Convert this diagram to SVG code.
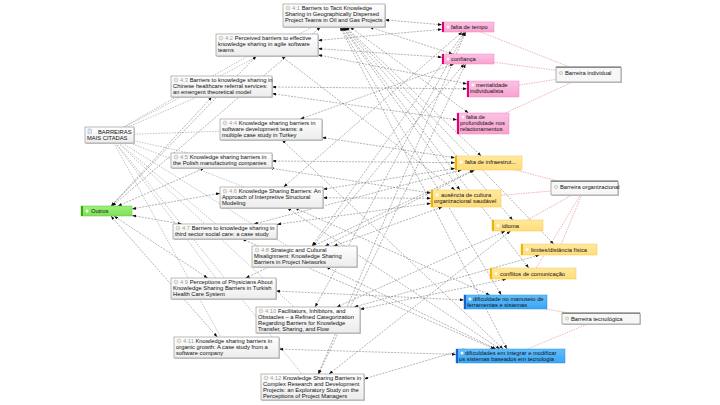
<svg xmlns="http://www.w3.org/2000/svg" width="720" height="405" viewBox="0 0 720 405">
<defs>
<marker id="ar" markerUnits="userSpaceOnUse" markerWidth="4" markerHeight="3" refX="4" refY="1.5" orient="auto-start-reverse"><path d="M0,0 L4,1.5 L0,3 z" fill="#111"/></marker>
<linearGradient id="gp" x1="0" y1="0" x2="0" y2="1"><stop offset="0" stop-color="#ffffff"/><stop offset="1" stop-color="#ececec"/></linearGradient>
<linearGradient id="gk" x1="0" y1="0" x2="0" y2="1"><stop offset="0" stop-color="#fbc2e2"/><stop offset="1" stop-color="#f7a3d0"/></linearGradient>
<linearGradient id="gy" x1="0" y1="0" x2="0" y2="1"><stop offset="0" stop-color="#ffe9a0"/><stop offset="1" stop-color="#ffdc78"/></linearGradient>
<linearGradient id="gb" x1="0" y1="0" x2="0" y2="1"><stop offset="0" stop-color="#62bdfb"/><stop offset="1" stop-color="#3aa6f4"/></linearGradient>
<linearGradient id="gg" x1="0" y1="0" x2="0" y2="1"><stop offset="0" stop-color="#9ef07a"/><stop offset="1" stop-color="#7fe058"/></linearGradient>
</defs>
<style>
text{font-family:"Liberation Sans",Arial,sans-serif;font-size:5.8px;fill:#111}
.num{fill:#9a9a9a}
.e{stroke:#666;stroke-width:0.5;stroke-dasharray:2 1.2;fill:none;marker-start:url(#ar);marker-end:url(#ar)}
.b{stroke:#777;stroke-width:0.45;stroke-dasharray:1.5 1.2;fill:none}
.p{stroke:#e87878;stroke-width:0.55;stroke-dasharray:1.5 1;fill:none}
.sh{fill:#cfcfcf}
.pn{fill:url(#gp);stroke:#8a8a8a;stroke-width:0.6}
.pi{fill:#efe6da;stroke:#b8ab9a;stroke-width:0.5}
.ci{fill:#fff;stroke:none;opacity:0.9}
.kp{fill:url(#gk);stroke:#ef86c2;stroke-width:0.5}
.kpb{fill:#e0007a}
.ky{fill:url(#gy);stroke:#f3c94d;stroke-width:0.5}
.kyb{fill:#f2b400}
.kb{fill:url(#gb);stroke:#2b8fe3;stroke-width:0.5}
.kbb{fill:#1560d4}
.kg{fill:url(#gg);stroke:#5cc63a;stroke-width:0.5}
.kgb{fill:#36a61c}
.br{fill:#f7f7f7;stroke:#7a7a7a;stroke-width:0.6}
.brt{fill:#8a8a8a}
.bi{fill:#e2eee2;stroke:#9bb89b;stroke-width:0.5}
</style>
<rect width="720" height="405" fill="#ffffff"/>
<g id="connectors">
<path class="b" d="M124.5,127 L312.4,27"/>
<path class="b" d="M123.5,127 L247.8,56"/>
<path class="b" d="M128,127 L197.3,97"/>
<path class="b" d="M134,134.2 L220,131.2"/>
<path class="b" d="M134,140.6 L188.6,153"/>
<path class="b" d="M130.2,143 L244.3,187"/>
<path class="b" d="M119.1,143 L216,224"/>
<path class="b" d="M122.3,143 L287.7,246"/>
<path class="b" d="M115.4,143 L215.7,278"/>
<path class="b" d="M118.1,143 L294,307"/>
<path class="b" d="M113.9,143 L220.7,337"/>
<path class="b" d="M115.9,143 L302,374"/>
<path class="e" d="M385,19.9 L442,24.8"/>
<path class="e" d="M369.4,27 L452.6,54"/>
<path class="e" d="M349.9,27 L468.5,113"/>
<path class="e" d="M346,27 L481.2,156"/>
<path class="e" d="M342.3,27 L459.9,190"/>
<path class="e" d="M344,27 L512.7,220"/>
<path class="e" d="M345.1,27 L553.7,244"/>
<path class="e" d="M342.9,27 L528.8,268"/>
<path class="e" d="M340.9,27 L501.3,295"/>
<path class="e" d="M340,27 L506.9,349"/>
<path class="e" d="M320.6,27 L112.3,206"/>
<path class="e" d="M318,40.4 L442,29.3"/>
<path class="e" d="M318,48.6 L442,57.2"/>
<path class="e" d="M318,54.9 L467,83.9"/>
<path class="e" d="M281.3,56 L455,190"/>
<path class="e" d="M256.4,56 L111.3,206"/>
<path class="e" d="M272,87 L467,88.8"/>
<path class="e" d="M272,93.6 L457,119.8"/>
<path class="e" d="M211.8,97 L111.1,206"/>
<path class="e" d="M300.3,119 L454,64"/>
<path class="e" d="M322,137.4 L455,157.8"/>
<path class="e" d="M282.1,140 L503.1,349"/>
<path class="e" d="M272,161 L455,162.7"/>
<path class="e" d="M269.7,168 L431,193.1"/>
<path class="e" d="M204.4,168 L117.9,206"/>
<path class="e" d="M283.6,187 L462.2,32"/>
<path class="e" d="M323,189.3 L455,168.3"/>
<path class="e" d="M323,197.8 L431,198.3"/>
<path class="e" d="M295,208 L489.8,295"/>
<path class="e" d="M287.3,208 L499.9,349"/>
<path class="e" d="M220,193.3 L132,208.9"/>
<path class="e" d="M253.9,224 L461.6,170"/>
<path class="e" d="M277,224.4 L431,203.3"/>
<path class="e" d="M242.2,239 L494.5,349"/>
<path class="e" d="M181.6,224 L132,215.4"/>
<path class="e" d="M312,246 L464.4,32"/>
<path class="e" d="M313.2,246 L463.9,64"/>
<path class="e" d="M325.2,246 L474.7,170"/>
<path class="e" d="M333.7,246 L442.3,207"/>
<path class="e" d="M326.2,267 L496,349"/>
<path class="e" d="M245.7,278 L473.7,170"/>
<path class="e" d="M276,291 L464,300"/>
<path class="e" d="M207.6,278 L114,216"/>
<path class="e" d="M315.1,307 L465.3,32"/>
<path class="e" d="M336.8,307 L505.3,231"/>
<path class="e" d="M360,309.3 L506.4,279"/>
<path class="e" d="M354.3,307 L539.4,255"/>
<path class="e" d="M279,349.1 L456,354.4"/>
<path class="e" d="M217.3,337 L110.9,216"/>
<path class="e" d="M318.1,374 L465.8,32"/>
<path class="e" d="M318.7,374 L465.6,64"/>
<path class="e" d="M329,374 L510.5,231"/>
<path class="e" d="M364,378.9 L465.8,349"/>
<path class="p" d="M480.7,32 L569.5,67"/>
<path class="p" d="M494,62.3 L556,70.3"/>
<path class="p" d="M519,85.1 L556,79.4"/>
<path class="p" d="M505.6,113 L572.4,82"/>
<path class="p" d="M515.4,170 L557.6,181"/>
<path class="p" d="M501,195.4 L551,191"/>
<path class="p" d="M527.3,220 L572,195"/>
<path class="p" d="M561.3,244 L581.6,195"/>
<path class="p" d="M536.3,268 L580.3,195"/>
<path class="p" d="M546,309 L569.2,313"/>
<path class="p" d="M527.4,349 L587.7,324"/>
</g>
<g id="p41"><rect class="sh" x="284" y="5" width="102" height="23"/><rect class="pn" x="283" y="4" width="102" height="23"/><circle class="pi" cx="288" cy="8" r="2"/><text x="292" y="10"><tspan class="num">4:1</tspan> Barriers to Tacit Knowledge</text><text x="285" y="16">Sharing in Geographically Dispersed</text><text x="285" y="22">Project Teams in Oil and Gas Projects</text></g>
<g id="p42"><rect class="sh" x="217" y="35" width="102" height="22"/><rect class="pn" x="216" y="34" width="102" height="22"/><circle class="pi" cx="221" cy="38" r="2"/><text x="225" y="40"><tspan class="num">4:2</tspan> Perceived barriers to effective</text><text x="218" y="46">knowledge sharing in agile software</text><text x="218" y="52">teams</text></g>
<g id="p43"><rect class="sh" x="172" y="77" width="101" height="21"/><rect class="pn" x="171" y="76" width="101" height="21"/><circle class="pi" cx="176" cy="80" r="2"/><text x="180" y="82"><tspan class="num">4:3</tspan> Barriers to knowledge sharing in</text><text x="173" y="88">Chinese healthcare referral services:</text><text x="173" y="94">an emergent theoretical model</text></g>
<g id="p44"><rect class="sh" x="221" y="120" width="102" height="21"/><rect class="pn" x="220" y="119" width="102" height="21"/><circle class="pi" cx="225" cy="123" r="2"/><text x="229" y="125"><tspan class="num">4:4</tspan> Knowledge sharing barriers in</text><text x="222" y="131">software development teams: a</text><text x="222" y="137">multiple case study in Turkey</text></g>
<g id="p45"><rect class="sh" x="172" y="154" width="101" height="15"/><rect class="pn" x="171" y="153" width="101" height="15"/><circle class="pi" cx="176" cy="157" r="2"/><text x="180" y="159"><tspan class="num">4:5</tspan> Knowledge sharing barriers in</text><text x="173" y="165">the Polish manufacturing companies</text></g>
<g id="p46"><rect class="sh" x="221" y="188" width="103" height="21"/><rect class="pn" x="220" y="187" width="103" height="21"/><circle class="pi" cx="225" cy="191" r="2"/><text x="229" y="193"><tspan class="num">4:6</tspan> Knowledge Sharing Barriers: An</text><text x="222" y="199">Approach of Interpretive Structural</text><text x="222" y="205">Modeling</text></g>
<g id="p47"><rect class="sh" x="174" y="225" width="104" height="15"/><rect class="pn" x="173" y="224" width="104" height="15"/><circle class="pi" cx="178" cy="228" r="2"/><text x="182" y="230"><tspan class="num">4:7</tspan> Barriers to knowledge sharing in</text><text x="175" y="236">third sector social care: a case study</text></g>
<g id="p48"><rect class="sh" x="253" y="247" width="105" height="21"/><rect class="pn" x="252" y="246" width="105" height="21"/><circle class="pi" cx="257" cy="250" r="2"/><text x="261" y="252"><tspan class="num">4:8</tspan> Strategic and Cultural</text><text x="254" y="258">Misalignment: Knowledge Sharing</text><text x="254" y="264">Barriers in Project Networks</text></g>
<g id="p49"><rect class="sh" x="172" y="279" width="105" height="21"/><rect class="pn" x="171" y="278" width="105" height="21"/><circle class="pi" cx="176" cy="282" r="2"/><text x="180" y="284"><tspan class="num">4:9</tspan> Perceptions of Physicians About</text><text x="173" y="290">Knowledge Sharing Barriers in Turkish</text><text x="173" y="296">Health Care System</text></g>
<g id="p410"><rect class="sh" x="257" y="308" width="104" height="26"/><rect class="pn" x="256" y="307" width="104" height="26"/><circle class="pi" cx="261" cy="311" r="2"/><text x="265" y="313"><tspan class="num">4:10</tspan> Facilitators, Inhibitors, and</text><text x="258" y="319">Obstacles – a Refined Categorization</text><text x="258" y="325">Regarding Barriers for Knowledge</text><text x="258" y="331">Transfer, Sharing, and Flow</text></g>
<g id="p411"><rect class="sh" x="175" y="338" width="105" height="21"/><rect class="pn" x="174" y="337" width="105" height="21"/><circle class="pi" cx="179" cy="341" r="2"/><text x="183" y="343"><tspan class="num">4:11</tspan> Knowledge sharing barriers in</text><text x="176" y="349">organic growth: A case study from a</text><text x="176" y="355">software company</text></g>
<g id="p412"><rect class="sh" x="262" y="375" width="103" height="26"/><rect class="pn" x="261" y="374" width="103" height="26"/><circle class="pi" cx="266" cy="378" r="2"/><text x="270" y="380"><tspan class="num">4:12</tspan> Knowledge Sharing Barriers in</text><text x="263" y="386">Complex Research and Development</text><text x="263" y="392">Projects: an Exploratory Study on the</text><text x="263" y="398">Perceptions of Project Managers</text></g>
<g id="bmc"><rect class="sh" x="86" y="128" width="49" height="16"/><rect class="pn" x="85" y="127" width="49" height="16"/><rect x="88" y="129" width="3.5" height="4.5" fill="#dde8f4" stroke="#7f9fc0" stroke-width="0.4"/><text x="98" y="134">BARREIRAS</text><text x="87" y="140">MAIS CITADAS</text></g>
<g id="c-ft"><rect class="kp" x="442" y="22" width="52" height="10"/><rect class="kpb" x="442" y="22" width="2" height="10"/><circle class="ci" cx="448" cy="27" r="1.5"/><text x="451" y="29">falta de tempo</text></g>
<g id="c-cf"><rect class="kp" x="442" y="54" width="52" height="10"/><rect class="kpb" x="442" y="54" width="2" height="10"/><circle class="ci" cx="448" cy="59" r="1.5"/><text x="451" y="61">confiança</text></g>
<g id="c-mi"><rect class="kp" x="467" y="81" width="52" height="16"/><rect class="kpb" x="467" y="81" width="2" height="16"/><circle class="ci" cx="473" cy="85" r="1.5"/><text x="476" y="87">mentalidade</text><text x="470" y="93">individualista</text></g>
<g id="c-fp"><rect class="kp" x="457" y="113" width="52" height="21"/><rect class="kpb" x="457" y="113" width="2" height="21"/><circle class="ci" cx="463" cy="117" r="1.5"/><text x="466" y="119">falta de</text><text x="460" y="125">profundidade nos</text><text x="460" y="131">relacionamentos</text></g>
<g id="c-fi"><rect class="ky" x="455" y="156" width="67" height="14"/><rect class="kyb" x="455" y="156" width="2" height="14"/><circle class="ci" cx="461" cy="162" r="1.5"/><text x="465" y="164">falta de infraestrut...</text></g>
<g id="c-ac"><rect class="ky" x="431" y="190" width="70" height="17"/><rect class="kyb" x="431" y="190" width="2" height="17"/><circle class="ci" cx="437" cy="195" r="1.5"/><text x="441" y="197">ausência de cultura</text><text x="434" y="203">organizacional saudável</text></g>
<g id="c-id"><rect class="ky" x="492" y="220" width="51" height="11"/><rect class="kyb" x="492" y="220" width="2" height="11"/><circle class="ci" cx="498" cy="225.5" r="1.5"/><text x="502" y="227.5">idioma</text></g>
<g id="c-ld"><rect class="ky" x="521" y="244" width="76" height="11"/><rect class="kyb" x="521" y="244" width="2" height="11"/><circle class="ci" cx="527" cy="249.5" r="1.5"/><text x="531" y="251.5">limites/distância física</text></g>
<g id="c-cc"><rect class="ky" x="490" y="268" width="86" height="11"/><rect class="kyb" x="490" y="268" width="2" height="11"/><circle class="ci" cx="496" cy="273.5" r="1.5"/><text x="500" y="275.5">conflitos de comunicação</text></g>
<g id="c-dm"><rect class="kb" x="464" y="295" width="83" height="14"/><rect class="kbb" x="464" y="295" width="2" height="14"/><circle class="ci" cx="470" cy="299" r="1.5"/><text x="473" y="301">dificuldade no manuseio de</text><text x="467" y="307">ferramentas e sistemas</text></g>
<g id="c-di"><rect class="kb" x="456" y="349" width="109" height="14"/><rect class="kbb" x="456" y="349" width="2" height="14"/><circle class="ci" cx="462" cy="353" r="1.5"/><text x="465" y="355">dificuldades em integrar e modificar</text><text x="459" y="361">os sistemas baseados em tecnologia</text></g>
<g id="c-ou"><rect class="kg" x="81" y="206" width="51" height="10"/><rect class="kgb" x="81" y="206" width="2" height="10"/><circle class="ci" cx="87" cy="211" r="1.5"/><text x="91" y="213">Outros</text></g>
<g id="g-bi"><rect class="sh" x="557" y="68" width="65" height="15"/><rect class="br" x="556" y="67" width="65" height="15"/><rect class="brt" x="556" y="66.5" width="65" height="1.5"/><circle class="bi" cx="561" cy="73" r="1.6"/><text x="565" y="75">Barreira individual</text></g>
<g id="g-bo"><rect class="sh" x="552" y="182" width="67" height="14"/><rect class="br" x="551" y="181" width="67" height="14"/><rect class="brt" x="551" y="180.5" width="67" height="1.5"/><circle class="bi" cx="556" cy="187" r="1.6"/><text x="560" y="189">Barreira organizacional</text></g>
<g id="g-bt"><rect class="sh" x="563" y="314" width="78" height="11"/><rect class="br" x="562" y="313" width="78" height="11"/><rect class="brt" x="562" y="312.5" width="78" height="1.5"/><circle class="bi" cx="567" cy="318.5" r="1.6"/><text x="571" y="320.5">Barreira tecnológica</text></g>
</svg>
